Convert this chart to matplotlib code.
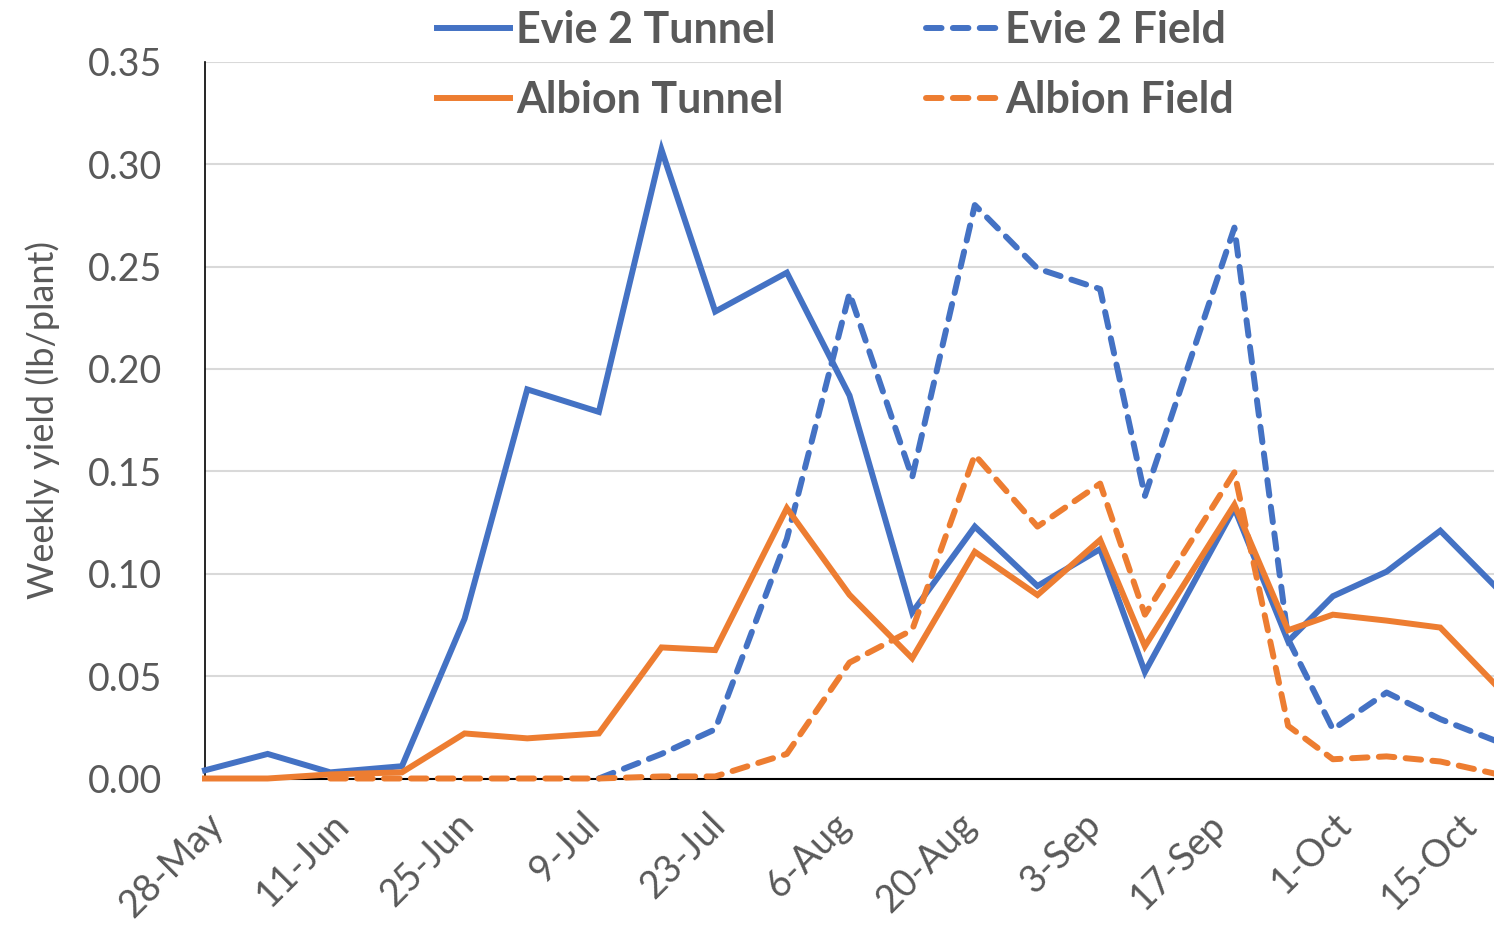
import numpy as np
import pandas as pd
import matplotlib
matplotlib.use('Agg')
import matplotlib.pyplot as plt

# harvest dates (weekly-ish picks), values in lb/plant
harvest_dates = ['2018-05-28', '2018-06-04', '2018-06-11', '2018-06-19', '2018-06-26',
                 '2018-07-03', '2018-07-11', '2018-07-18', '2018-07-24', '2018-08-01',
                 '2018-08-08', '2018-08-15', '2018-08-22', '2018-08-29', '2018-09-05',
                 '2018-09-10', '2018-09-20', '2018-09-26', '2018-10-01', '2018-10-07',
                 '2018-10-13', '2018-10-20']

evie_tunnel = [0.004, 0.012, 0.003, 0.006, 0.078, 0.190, 0.179, 0.307, 0.228, 0.247,
               0.187, 0.081, 0.123, 0.094, 0.112, 0.052, 0.132, 0.067, 0.089, 0.101,
               0.121, 0.090]
evie_field = [np.nan, np.nan, np.nan, np.nan, np.nan, np.nan, 0.0, 0.012, 0.024, 0.117,
              0.237, 0.147, 0.280, 0.249, 0.239, 0.138, 0.269, 0.068, 0.024, 0.042,
              0.029, 0.017]
albion_tunnel = [0.0, 0.0, 0.002, 0.003, 0.022, 0.0196, 0.022, 0.064, 0.0627, 0.132,
                 0.0897, 0.0587, 0.1107, 0.0896, 0.1165, 0.0646, 0.1337, 0.0724, 0.080,
                 0.0771, 0.0737, 0.042]
albion_field = [np.nan, np.nan, 0.0, 0.0, 0.0, 0.0, 0.0, 0.001, 0.001, 0.012,
                0.0566, 0.0725, 0.158, 0.123, 0.144, 0.080, 0.1495, 0.0257, 0.0094,
                0.0108, 0.0083, 0.0015]

series_names = ['Evie 2 Tunnel', 'Evie 2 Field', 'Albion Tunnel', 'Albion Field']

tick_dates = ['2018-05-28', '2018-06-11', '2018-06-25', '2018-07-09', '2018-07-23',
              '2018-08-06', '2018-08-20', '2018-09-03', '2018-09-17', '2018-10-01',
              '2018-10-15']
tick_labels = ['28-May', '11-Jun', '25-Jun', '9-Jul', '23-Jul', '6-Aug', '20-Aug',
               '3-Sep', '17-Sep', '1-Oct', '15-Oct']

blue = '#4472C4'
orange = '#ED7D31'
grey_text = '#595959'

plt.rcParams['font.family'] = ['Lato', 'DejaVu Sans']

x = pd.to_datetime(harvest_dates)

fig = plt.figure(figsize=(14.94, 9.33), dpi=100)
ax = fig.add_axes([205 / 1494, 154.5 / 933, 1 - 205 / 1494, 716.8 / 933])

lw = 4.3
dash = (2.6, 1.9)
l_et, = ax.plot(x, evie_tunnel, color=blue, lw=lw, label=series_names[0], zorder=3,
                clip_on=False, solid_joinstyle='miter')
l_ef, = ax.plot(x, evie_field, color=blue, lw=lw, label=series_names[1], zorder=3,
                clip_on=False, dashes=dash, dash_capstyle='round')
l_at, = ax.plot(x, albion_tunnel, color=orange, lw=lw, label=series_names[2], zorder=3,
                clip_on=False, solid_joinstyle='miter')
l_af, = ax.plot(x, albion_field, color=orange, lw=lw, label=series_names[3], zorder=3,
                clip_on=False, dashes=dash, dash_capstyle='round')

ax.set_xlim(pd.Timestamp('2018-05-28'), pd.Timestamp('2018-05-28') + pd.Timedelta(days=144))
ax.set_ylim(0, 0.35)
ax.set_yticks(np.arange(0, 0.351, 0.05))
ax.set_yticklabels(['%.2f' % v for v in np.arange(0, 0.351, 0.05)])
ax.set_xticks(pd.to_datetime(tick_dates))
ax.set_xticklabels(tick_labels, rotation=45, ha='right', va='top', rotation_mode='anchor')

ax.grid(axis='y', color='#d9d9d9', lw=1.5)
ax.set_axisbelow(True)
for s in ['top', 'right']:
    ax.spines[s].set_visible(False)
ax.spines['left'].set_linewidth(1.2)
ax.spines['bottom'].set_linewidth(1.5)
ax.spines['left'].set_color('black')
ax.spines['bottom'].set_color('black')

ax.tick_params(axis='y', length=0, pad=31, labelsize=27, labelcolor=grey_text)
ax.tick_params(axis='x', length=0, pad=20, labelsize=27, labelcolor=grey_text)

ax.set_ylabel('Weekly yield (lb/plant)', fontsize=26, color=grey_text)
ax.yaxis.set_label_coords((60 - 205) / 1289, 0.5)

# legend fills column-wise, so order handles to get rows Tunnel/Field
handles = [l_et, l_at, l_ef, l_af]
leg = ax.legend(handles=handles, labels=[h.get_label() for h in handles], ncol=2,
                loc='upper left', bbox_to_anchor=(437 / 1494, 1 - 10 / 933),
                bbox_transform=fig.transFigure, frameon=False, borderpad=0,
                borderaxespad=0, handlelength=1.7, handletextpad=0.14,
                columnspacing=3.3, labelspacing=0.70,
                prop={'weight': 'bold', 'size': 31})
for t in leg.get_texts():
    t.set_color(grey_text)

fig.savefig('out.png', dpi=100)
